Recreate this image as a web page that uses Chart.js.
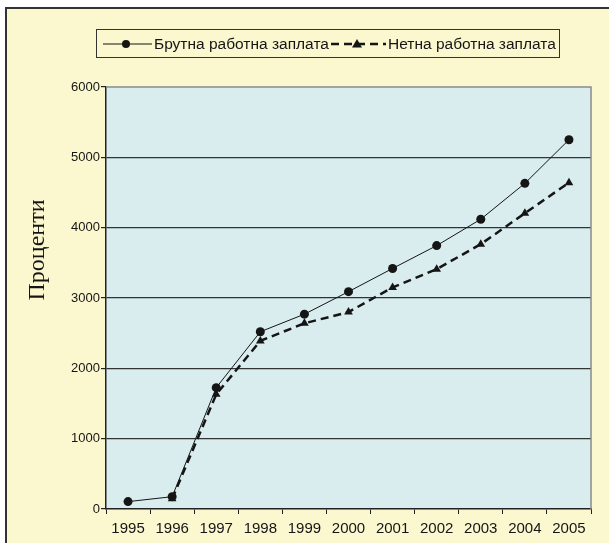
<!DOCTYPE html>
<html>
<head>
<meta charset="utf-8">
<script src="https://cdn.jsdelivr.net/npm/chart.js@4/dist/chart.umd.min.js"></script>
<style>
html,body{margin:0;padding:0;background:#fff;}
canvas{display:block;}
</style>
</head>
<body>
<canvas id="c" width="609" height="543"></canvas>
<script>
const years = ['1995','1996','1997','1998','1999','2000','2001','2002','2003','2004','2005'];
const grossWage = [105, 175, 1725, 2520, 2770, 3090, 3420, 3745, 4120, 4630, 5250];
const netWage = [null, 145, 1630, 2390, 2640, 2800, 3150, 3410, 3765, 4205, 4640];
const seriesNames = ['Брутна работна заплата', 'Нетна работна заплата'];
const yTitle = 'Проценти';

const frameBg = '#FBF7CF';
const plotBg = '#D9ECEE';
const ink = '#151515';

const decor = {
  id: 'decor',
  beforeDraw(chart) {
    const ctx = chart.ctx;
    const a = chart.chartArea;
    ctx.save();
    ctx.fillStyle = '#ffffff';
    ctx.fillRect(0, 0, chart.width, chart.height);
    ctx.fillStyle = frameBg;
    ctx.fillRect(6, 8, chart.width, chart.height);
    ctx.strokeStyle = '#333';
    ctx.lineWidth = 2;
    ctx.beginPath();
    ctx.moveTo(6, chart.height + 5);
    ctx.lineTo(6, 8);
    ctx.lineTo(chart.width + 5, 8);
    ctx.stroke();
    ctx.fillStyle = plotBg;
    ctx.fillRect(a.left, a.top, a.right - a.left, a.bottom - a.top);
    ctx.restore();
  },
  afterDraw(chart) {
    const ctx = chart.ctx;
    const a = chart.chartArea;
    ctx.save();
    ctx.strokeStyle = '#8a8a8a';
    ctx.lineWidth = 1.5;
    ctx.beginPath();
    ctx.moveTo(a.left, a.top);
    ctx.lineTo(a.right, a.top);
    ctx.lineTo(a.right, a.bottom);
    ctx.stroke();
    ctx.fillStyle = ink;
    ctx.font = '24px "Liberation Serif", "Times New Roman", serif';
    ctx.textAlign = 'center';
    ctx.textBaseline = 'middle';
    ctx.translate(38, 250);
    ctx.rotate(-Math.PI / 2);
    ctx.fillText(yTitle, 0, 0);
    ctx.restore();

    ctx.save();
    ctx.strokeStyle = '#333';
    ctx.lineWidth = 1;
    ctx.strokeRect(96.5, 29.5, 463, 28);
    const ly = 44;
    ctx.strokeStyle = ink;
    ctx.fillStyle = ink;
    ctx.lineWidth = 1;
    ctx.beginPath();
    ctx.moveTo(103, ly); ctx.lineTo(152, ly);
    ctx.stroke();
    ctx.beginPath();
    ctx.arc(126, ly, 4, 0, Math.PI * 2);
    ctx.fill();
    ctx.font = '15.5px "Liberation Sans", Arial, sans-serif';
    ctx.textAlign = 'left';
    ctx.textBaseline = 'middle';
    ctx.fillText(seriesNames[0], 154, ly + 1);
    ctx.lineWidth = 2.5;
    ctx.setLineDash([8, 5]);
    ctx.beginPath();
    ctx.moveTo(331, ly); ctx.lineTo(386, ly);
    ctx.stroke();
    ctx.setLineDash([]);
    ctx.beginPath();
    ctx.moveTo(357, ly - 5); ctx.lineTo(362, ly + 3.5); ctx.lineTo(352, ly + 3.5);
    ctx.closePath();
    ctx.fill();
    ctx.fillText(seriesNames[1], 388, ly + 1);
    ctx.restore();
  }
};

new Chart(document.getElementById('c'), {
  type: 'line',
  data: {
    labels: years,
    datasets: [
      {
        label: seriesNames[0],
        data: grossWage,
        borderColor: ink,
        backgroundColor: ink,
        borderWidth: 1,
        pointStyle: 'circle',
        pointRadius: 4.5,
        pointBorderWidth: 0,
        tension: 0,
        fill: false
      },
      {
        label: seriesNames[1],
        data: netWage,
        borderColor: ink,
        backgroundColor: ink,
        borderWidth: 2.5,
        borderDash: [8, 5],
        pointStyle: 'triangle',
        pointRadius: 5,
        pointBorderWidth: 0,
        tension: 0,
        fill: false,
        spanGaps: false
      }
    ]
  },
  options: {
    responsive: false,
    animation: false,
    devicePixelRatio: 1,
    layout: { padding: { top: 87, right: 18, left: 0, bottom: 0 } },
    plugins: {
      legend: { display: false },
      tooltip: { enabled: false },
      title: { display: false }
    },
    scales: {
      x: {
        type: 'category',
        offset: true,
        afterFit(s) { s.height = 34; },
        grid: {
          offset: true,
          drawOnChartArea: false,
          drawTicks: true,
          tickLength: 5,
          tickColor: '#222'
        },
        border: { color: '#222', width: 1.5 },
        ticks: {
          color: ink,
          padding: 6,
          maxRotation: 0,
          autoSkip: false,
          font: { family: '"Liberation Sans", Arial, sans-serif', size: 15 }
        }
      },
      y: {
        min: 0,
        max: 6000,
        afterFit(s) { s.width = 106; },
        grid: {
          color(c) {
            if (c.tick && (c.tick.value === 6000 || c.tick.value === 0)) return 'rgba(0,0,0,0)';
            return '#333';
          },
          lineWidth: 1.2,
          tickLength: 5,
          tickColor: '#222'
        },
        border: { color: '#222', width: 1.5 },
        ticks: {
          stepSize: 1000,
          color: ink,
          padding: 1,
          callback: (v) => String(v),
          font: { family: '"Liberation Sans", Arial, sans-serif', size: 13 }
        }
      }
    }
  },
  plugins: [decor]
});
</script>
</body>
</html>
